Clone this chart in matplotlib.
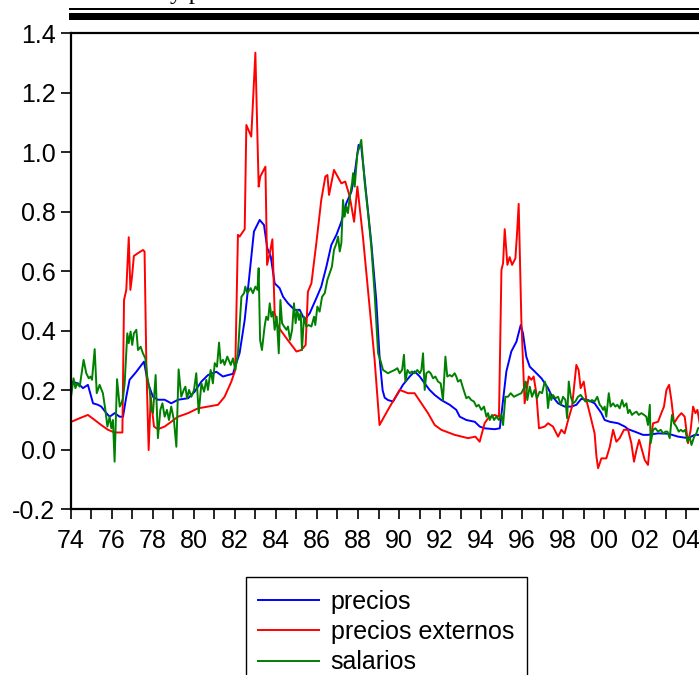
import matplotlib.pyplot as plt
from matplotlib.patches import Rectangle
from matplotlib.ticker import MultipleLocator, FuncFormatter

plt.rcParams['font.family'] = ['Liberation Sans', 'DejaVu Sans']

### precios (blue) ###
t_precios = [1974.03, 1974.36, 1974.60, 1974.84, 1975.09, 1975.33, 1975.49, 1975.74, 1975.90, 1976.14,
             1976.39, 1976.55, 1976.71, 1976.87, 1977.20, 1977.57, 1977.77, 1978.01, 1978.25, 1978.58,
             1978.90, 1979.23, 1979.72, 1980.04, 1980.37, 1980.69, 1981.10, 1981.42, 1981.67, 1981.91,
             1981.99, 1982.23, 1982.48, 1982.72, 1982.93, 1983.21, 1983.42, 1983.58, 1983.75, 1983.94,
             1984.18, 1984.35, 1984.59, 1984.91, 1985.16, 1985.40, 1985.65, 1985.97, 1986.21, 1986.46,
             1986.70, 1986.95, 1987.19, 1987.43, 1987.68, 1987.84, 1988.03, 1988.16, 1988.33, 1988.65,
             1988.89, 1989.06, 1989.20, 1989.30, 1989.46, 1989.71, 1989.95, 1990.19, 1990.52, 1990.76,
             1991.01, 1991.25, 1991.49, 1991.74, 1992.06, 1992.47, 1992.79, 1992.96, 1993.28, 1993.69,
             1993.93, 1994.17, 1994.66, 1994.91, 1995.07, 1995.23, 1995.47, 1995.72, 1995.93, 1996.04,
             1996.20, 1996.37, 1996.61, 1996.94, 1997.26, 1997.42, 1997.75, 1998.07, 1998.40, 1998.64,
             1998.88, 1999.21, 1999.53, 1999.86, 2000.02, 2000.27, 2000.67, 2001.00, 2001.16, 2001.48,
             2001.89, 2002.13, 2002.62, 2003.11, 2003.60, 2004.08, 2004.41, 2004.65]
precios = [0.229, 0.223, 0.207, 0.218, 0.156, 0.151, 0.145, 0.123, 0.111, 0.123,
           0.111, 0.111, 0.178, 0.235, 0.262, 0.296, 0.223, 0.178, 0.168, 0.168,
           0.156, 0.168, 0.173, 0.195, 0.229, 0.251, 0.262, 0.246, 0.251, 0.255,
           0.274, 0.324, 0.436, 0.593, 0.733, 0.772, 0.755, 0.677, 0.649, 0.559,
           0.543, 0.514, 0.492, 0.470, 0.470, 0.436, 0.459, 0.509, 0.548, 0.615,
           0.688, 0.722, 0.766, 0.828, 0.867, 0.929, 1.024, 1.018, 0.907, 0.694,
           0.503, 0.302, 0.200, 0.175, 0.167, 0.162, 0.190, 0.218, 0.246, 0.263,
           0.246, 0.223, 0.201, 0.184, 0.167, 0.151, 0.134, 0.111, 0.100, 0.094,
           0.078, 0.072, 0.069, 0.072, 0.167, 0.263, 0.330, 0.363, 0.419, 0.391,
           0.313, 0.279, 0.263, 0.240, 0.207, 0.184, 0.156, 0.145, 0.145, 0.151,
           0.171, 0.167, 0.156, 0.123, 0.100, 0.094, 0.089, 0.078, 0.069, 0.061,
           0.050, 0.050, 0.055, 0.054, 0.044, 0.039, 0.050, 0.050]

### precios externos (red) ###
t_externos = [1974.03, 1974.44, 1974.84, 1975.17, 1975.49, 1975.82, 1976.14, 1976.52, 1976.60, 1976.71,
              1976.83, 1976.91, 1976.99, 1977.08, 1977.31, 1977.52, 1977.60, 1977.69, 1977.80, 1977.90,
              1978.06, 1978.25, 1978.58, 1978.90, 1979.23, 1979.72, 1980.20, 1980.69, 1981.18, 1981.50,
              1981.83, 1982.02, 1982.15, 1982.23, 1982.48, 1982.56, 1982.80, 1983.00, 1983.16, 1983.24,
              1983.49, 1983.57, 1983.70, 1983.83, 1983.94, 1984.10, 1984.51, 1985.00, 1985.24, 1985.45,
              1985.56, 1985.73, 1985.97, 1986.21, 1986.41, 1986.51, 1986.59, 1986.83, 1987.19, 1987.38,
              1987.60, 1987.81, 1987.97, 1988.24, 1988.81, 1989.05, 1989.46, 1990.03, 1990.44, 1990.76,
              1991.09, 1991.41, 1991.74, 1992.06, 1992.71, 1993.36, 1993.72, 1993.93, 1994.17, 1994.34,
              1994.66, 1994.87, 1994.99, 1995.07, 1995.15, 1995.28, 1995.39, 1995.51, 1995.67, 1995.75,
              1995.83, 1995.96, 1996.12, 1996.32, 1996.45, 1996.56, 1996.69, 1996.82, 1997.10, 1997.26,
              1997.50, 1997.75, 1997.91, 1998.07, 1998.24, 1998.43, 1998.64, 1998.75, 1998.85, 1999.00,
              1999.13, 1999.29, 1999.53, 1999.62, 1999.70, 1999.86, 2000.10, 2000.27, 2000.43, 2000.59,
              2000.75, 2000.96, 2001.16, 2001.32, 2001.45, 2001.57, 2001.70, 2001.84, 2001.97, 2002.13,
              2002.23, 2002.38, 2002.62, 2002.78, 2002.91, 2003.03, 2003.16, 2003.27, 2003.40, 2003.60,
              2003.76, 2003.92, 2004.08, 2004.21, 2004.33, 2004.44, 2004.54, 2004.65]
precios_externos = [0.094, 0.106, 0.117, 0.100, 0.083, 0.067, 0.058, 0.058, 0.503, 0.537,
                    0.714, 0.537, 0.582, 0.651, 0.662, 0.671, 0.666, 0.279, -0.001, 0.178,
                    0.078, 0.069, 0.078, 0.094, 0.111, 0.123, 0.139, 0.145, 0.151, 0.178,
                    0.229, 0.268, 0.722, 0.716, 0.741, 1.091, 1.052, 1.334, 0.884, 0.918,
                    0.951, 0.621, 0.660, 0.707, 0.459, 0.414, 0.375, 0.330, 0.335, 0.352,
                    0.531, 0.559, 0.694, 0.839, 0.918, 0.923, 0.856, 0.940, 0.895, 0.901,
                    0.850, 0.766, 0.884, 0.716, 0.302, 0.083, 0.134, 0.201, 0.190, 0.190,
                    0.156, 0.123, 0.083, 0.067, 0.050, 0.039, 0.044, 0.027, 0.089, 0.106,
                    0.117, 0.111, 0.604, 0.627, 0.741, 0.621, 0.647, 0.621, 0.643, 0.727,
                    0.826, 0.436, 0.156, 0.246, 0.235, 0.246, 0.190, 0.072, 0.078, 0.089,
                    0.078, 0.044, 0.067, 0.055, 0.100, 0.145, 0.285, 0.268, 0.207, 0.229,
                    0.167, 0.123, 0.055, -0.023, -0.062, -0.029, -0.029, 0.010, 0.067, 0.027,
                    0.039, 0.067, 0.067, 0.022, -0.040, -0.001, 0.033, -0.001, -0.034, -0.051,
                    0.022, 0.089, 0.094, 0.123, 0.145, 0.201, 0.218, 0.167, 0.089, 0.111,
                    0.123, 0.111, 0.022, 0.067, 0.145, 0.123, 0.134, 0.089]

### salarios (green) ###
t_salarios = [1974.03, 1974.14, 1974.23, 1974.32, 1974.44, 1974.63, 1974.76, 1974.88, 1974.97, 1975.04,
              1975.17, 1975.27, 1975.41, 1975.57, 1975.69, 1975.79, 1975.90, 1975.98, 1976.06, 1976.14,
              1976.26, 1976.39, 1976.47, 1976.55, 1976.63, 1976.76, 1976.83, 1976.92, 1977.00, 1977.08,
              1977.20, 1977.28, 1977.41, 1977.52, 1977.64, 1977.73, 1977.85, 1977.93, 1978.01, 1978.14,
              1978.25, 1978.37, 1978.47, 1978.58, 1978.69, 1978.79, 1978.90, 1979.03, 1979.15, 1979.26,
              1979.39, 1979.51, 1979.59, 1979.67, 1979.77, 1979.88, 1980.01, 1980.12, 1980.24, 1980.37,
              1980.50, 1980.61, 1980.69, 1980.82, 1980.93, 1981.02, 1981.13, 1981.23, 1981.31, 1981.42,
              1981.50, 1981.63, 1981.80, 1981.91, 1982.02, 1982.15, 1982.32, 1982.45, 1982.51, 1982.61,
              1982.77, 1982.88, 1983.00, 1983.10, 1983.16, 1983.23, 1983.32, 1983.45, 1983.53, 1983.62,
              1983.70, 1983.78, 1983.86, 1983.94, 1984.04, 1984.14, 1984.22, 1984.30, 1984.40, 1984.51,
              1984.59, 1984.69, 1984.79, 1984.88, 1984.96, 1985.04, 1985.13, 1985.21, 1985.27, 1985.37,
              1985.48, 1985.60, 1985.73, 1985.86, 1985.92, 1986.02, 1986.13, 1986.25, 1986.38, 1986.51,
              1986.62, 1986.73, 1986.83, 1986.95, 1987.03, 1987.11, 1987.19, 1987.27, 1987.35, 1987.43,
              1987.51, 1987.60, 1987.71, 1987.76, 1987.84, 1987.97, 1988.08, 1988.16, 1988.24, 1988.33,
              1988.49, 1988.65, 1988.81, 1988.98, 1989.11, 1989.22, 1989.46, 1989.63, 1989.79, 1989.92,
              1990.03, 1990.15, 1990.24, 1990.31, 1990.41, 1990.52, 1990.63, 1990.76, 1990.89, 1991.01,
              1991.09, 1991.17, 1991.25, 1991.33, 1991.45, 1991.54, 1991.66, 1991.77, 1991.90, 1992.03,
              1992.14, 1992.26, 1992.35, 1992.47, 1992.58, 1992.71, 1992.79, 1992.87, 1993.00, 1993.12,
              1993.28, 1993.39, 1993.52, 1993.65, 1993.77, 1993.88, 1994.01, 1994.14, 1994.26, 1994.34,
              1994.42, 1994.53, 1994.63, 1994.74, 1994.87, 1994.99, 1995.07, 1995.18, 1995.31, 1995.44,
              1995.60, 1995.77, 1995.96, 1996.12, 1996.17, 1996.25, 1996.37, 1996.48, 1996.61, 1996.72,
              1996.85, 1996.97, 1997.10, 1997.18, 1997.26, 1997.34, 1997.42, 1997.50, 1997.62, 1997.75,
              1997.88, 1997.99, 1998.11, 1998.19, 1998.27, 1998.37, 1998.48, 1998.59, 1998.72, 1998.85,
              1998.97, 1999.08, 1999.18, 1999.29, 1999.40, 1999.53, 1999.66, 1999.78, 1999.86, 1999.94,
              2000.02, 2000.10, 2000.22, 2000.31, 2000.43, 2000.54, 2000.64, 2000.75, 2000.87, 2000.96,
              2001.08, 2001.16, 2001.24, 2001.35, 2001.45, 2001.57, 2001.68, 2001.81, 2001.94, 2002.05,
              2002.13, 2002.22, 2002.26, 2002.38, 2002.49, 2002.62, 2002.75, 2002.87, 2002.98, 2003.08,
              2003.19, 2003.30, 2003.40, 2003.51, 2003.63, 2003.73, 2003.84, 2003.95, 2004.05, 2004.16,
              2004.25, 2004.38, 2004.49, 2004.57, 2004.65]
salarios = [0.184, 0.240, 0.207, 0.223, 0.212, 0.302, 0.257, 0.240, 0.246, 0.235,
            0.338, 0.190, 0.218, 0.190, 0.134, 0.078, 0.111, 0.072, 0.100, -0.040,
            0.237, 0.145, 0.156, 0.173, 0.223, 0.391, 0.358, 0.397, 0.352, 0.391,
            0.403, 0.335, 0.346, 0.324, 0.307, 0.246, 0.201, 0.134, 0.123, 0.251,
            0.039, 0.134, 0.156, 0.111, 0.134, 0.100, 0.145, 0.100, 0.010, 0.270,
            0.178, 0.201, 0.212, 0.173, 0.201, 0.178, 0.201, 0.257, 0.123, 0.223,
            0.195, 0.235, 0.201, 0.268, 0.223, 0.291, 0.279, 0.360, 0.291, 0.302,
            0.285, 0.313, 0.285, 0.307, 0.268, 0.324, 0.514, 0.526, 0.548, 0.526,
            0.543, 0.526, 0.548, 0.537, 0.610, 0.369, 0.335, 0.414, 0.447, 0.436,
            0.492, 0.447, 0.464, 0.403, 0.447, 0.324, 0.503, 0.425, 0.414, 0.403,
            0.414, 0.369, 0.403, 0.492, 0.425, 0.470, 0.436, 0.459, 0.335, 0.447,
            0.414, 0.419, 0.414, 0.447, 0.419, 0.481, 0.464, 0.514, 0.526, 0.571,
            0.593, 0.615, 0.671, 0.694, 0.716, 0.666, 0.694, 0.839, 0.783, 0.817,
            0.795, 0.850, 0.895, 0.929, 0.884, 0.996, 1.018, 1.041, 0.974, 0.895,
            0.795, 0.682, 0.526, 0.324, 0.296, 0.268, 0.257, 0.263, 0.268, 0.274,
            0.257, 0.268, 0.319, 0.229, 0.268, 0.257, 0.263, 0.257, 0.268, 0.257,
            0.268, 0.324, 0.201, 0.257, 0.263, 0.257, 0.240, 0.246, 0.229, 0.223,
            0.167, 0.313, 0.246, 0.251, 0.246, 0.257, 0.246, 0.229, 0.235, 0.207,
            0.173, 0.178, 0.167, 0.162, 0.145, 0.151, 0.134, 0.145, 0.111, 0.123,
            0.100, 0.117, 0.100, 0.111, 0.100, 0.117, 0.083, 0.178, 0.178, 0.190,
            0.178, 0.184, 0.190, 0.212, 0.229, 0.167, 0.212, 0.178, 0.201, 0.173,
            0.195, 0.190, 0.229, 0.212, 0.140, 0.190, 0.167, 0.184, 0.173, 0.178,
            0.151, 0.178, 0.167, 0.106, 0.229, 0.178, 0.156, 0.162, 0.178, 0.184,
            0.173, 0.162, 0.167, 0.162, 0.167, 0.162, 0.178, 0.151, 0.145, 0.134,
            0.145, 0.111, 0.190, 0.145, 0.156, 0.145, 0.151, 0.139, 0.167, 0.145,
            0.156, 0.123, 0.134, 0.117, 0.123, 0.128, 0.117, 0.123, 0.117, 0.111,
            0.083, 0.151, 0.022, 0.067, 0.072, 0.061, 0.067, 0.055, 0.061, 0.061,
            0.039, 0.117, 0.089, 0.078, 0.061, 0.067, 0.061, 0.067, 0.027, 0.044,
            0.016, 0.044, 0.055, 0.072, 0.075]

labels = ['precios', 'precios externos', 'salarios']
colors = ['#0000ff', '#ff0000', '#008000']

fs = 18
fig = plt.figure(figsize=(6.99, 6.75), dpi=100)
ax = fig.add_axes([0.1011, 0.2455, 0.9175, 0.7056])

ax.plot(t_precios, precios, color=colors[0], lw=1.4, label=labels[0])
ax.plot(t_externos, precios_externos, color=colors[1], lw=1.4, label=labels[1])
ax.plot(t_salarios, salarios, color=colors[2], lw=1.4, label=labels[2])

ax.set_xlim(1974, 2005.25)
ax.set_ylim(-0.2, 1.4)
ax.yaxis.set_major_locator(MultipleLocator(0.2))
ax.yaxis.set_major_formatter(FuncFormatter(lambda v, p: '%.1f' % v))
ax.xaxis.set_major_locator(MultipleLocator(1))
ax.xaxis.set_major_formatter(FuncFormatter(lambda v, p: '%02d' % (int(round(v)) % 100) if int(round(v)) % 2 == 0 else ''))
ax.tick_params(direction='out', length=7.5, width=1.2, labelsize=fs, pad=3.5)
ax.tick_params(axis='x', pad=7)
for s in ax.spines.values():
    s.set_linewidth(1.6)
ax.spines['right'].set_visible(False)

### double rule above the plot and clipped title ###
fig.add_artist(Rectangle((69/699., 1 - 10.3/675.), 1, 2.0/675., transform=fig.transFigure,
                         facecolor='black', edgecolor='none'))
fig.add_artist(Rectangle((69/699., 1 - 20.0/675.), 1, 7.3/675., transform=fig.transFigure,
                         facecolor='black', edgecolor='none'))
fig.text(170/699., 1 + 1.5/675., 'y p', fontsize=18, family='Liberation Serif',
         ha='left', va='baseline')

leg = fig.legend(loc='upper left', bbox_to_anchor=(245.7/699., 1 - 577.3/675.),
                 bbox_transform=fig.transFigure, borderaxespad=0, fancybox=False,
                 edgecolor='black', framealpha=1, fontsize=fs, handlelength=2.45,
                 handletextpad=0.45, borderpad=0.5, labelspacing=0.25)
leg.get_frame().set_linewidth(1.0)

plt.savefig('out.png', dpi=100)
